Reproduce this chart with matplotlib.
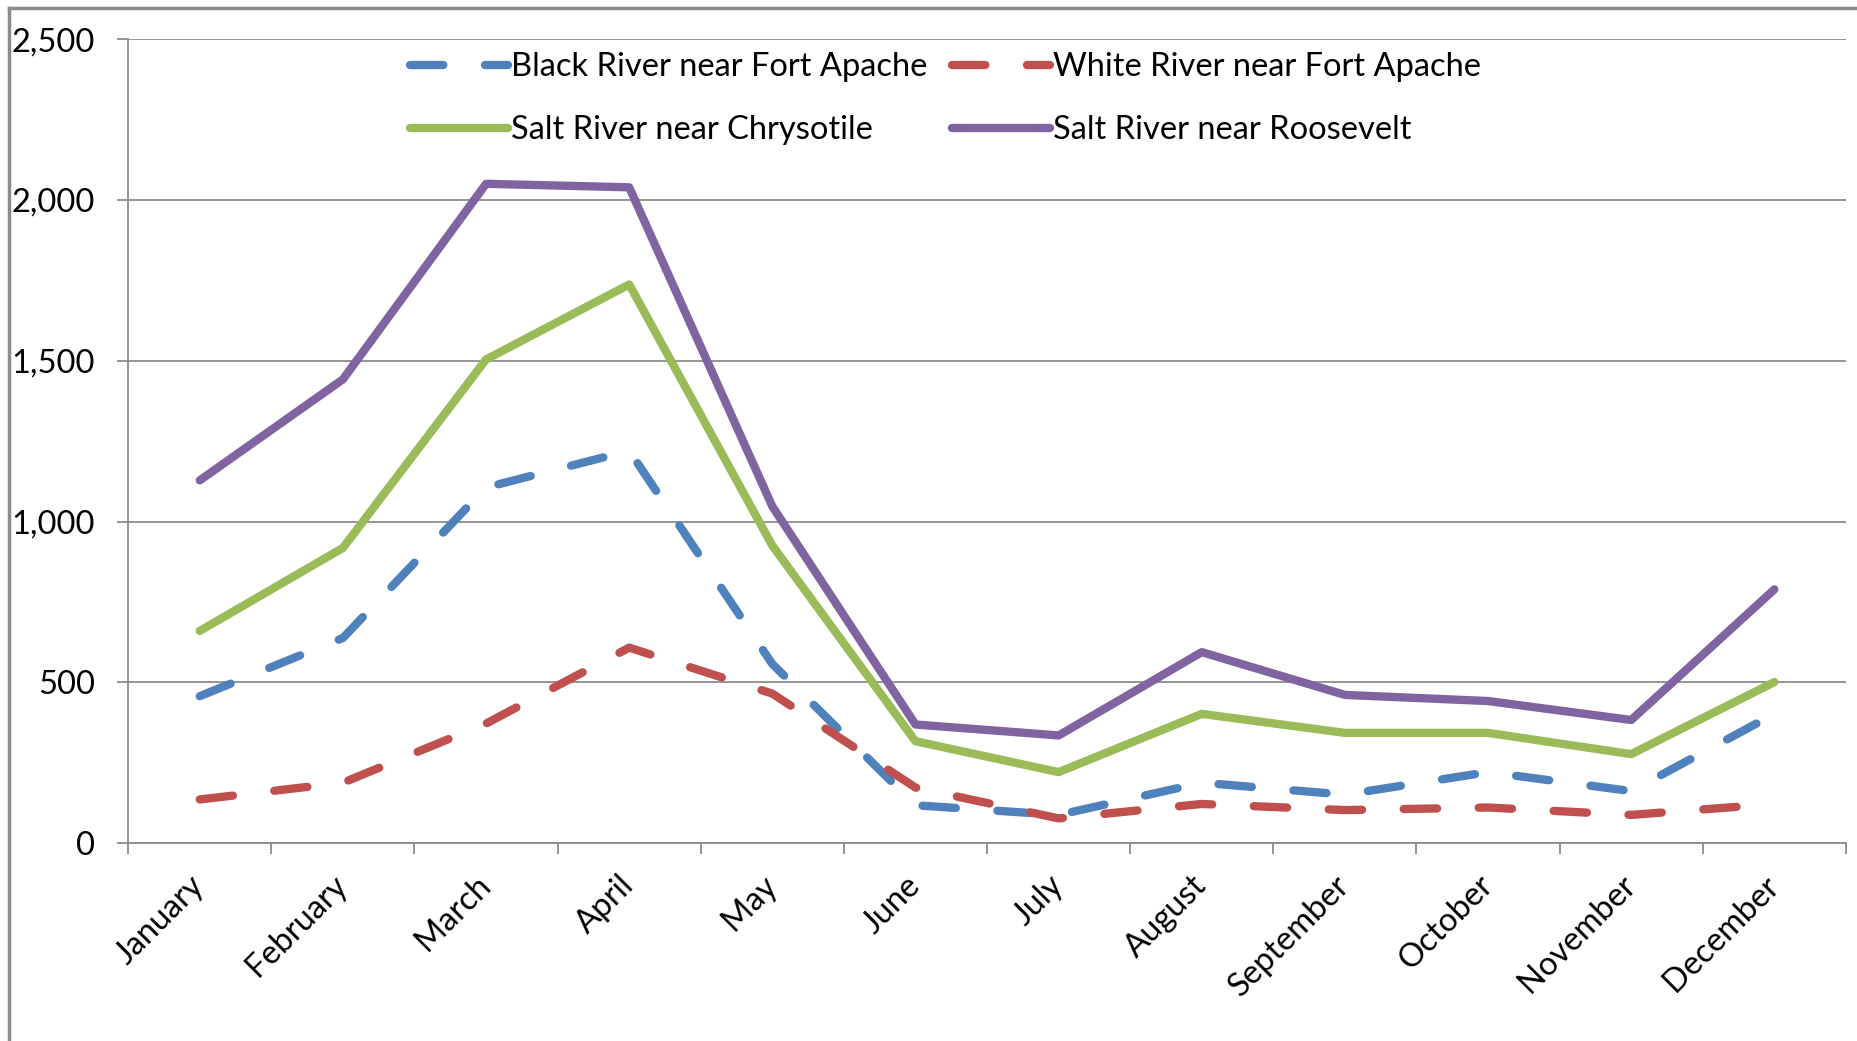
import matplotlib
matplotlib.use('Agg')
import matplotlib.pyplot as plt
import matplotlib.transforms as mtransforms
from matplotlib.lines import Line2D

plt.rcParams['font.family'] = ['Lato', 'DejaVu Sans']

months = ['January', 'February', 'March', 'April', 'May', 'June', 'July',
          'August', 'September', 'October', 'November', 'December']
black_river = [457, 638, 1106, 1220, 557, 118, 88, 188, 151, 221, 162, 402]
white_river = [136, 188, 372, 608, 465, 173, 77, 122, 103, 111, 88, 122]
salt_chrysotile = [660, 918, 1504, 1737, 925, 317, 221, 402, 343, 343, 277, 501]
salt_roosevelt = [1128, 1442, 2050, 2039, 1047, 369, 335, 594, 461, 442, 383, 789]

fig = plt.figure(figsize=(18.58, 10.41), dpi=100)
ax = fig.add_axes([0.069, 0.190, 0.9245, 0.7725])

x = list(range(len(months)))
lw = 6.0
h1, = ax.plot(x, black_river, color='#4F81BD', lw=lw, dashes=(4, 5),
              dash_capstyle='round', solid_joinstyle='round',
              label='Black River near Fort Apache')
h2, = ax.plot(x, white_river, color='#C0504D', lw=lw, dashes=(4, 5),
              dash_capstyle='round', solid_joinstyle='round',
              label='White River near Fort Apache')
h3, = ax.plot(x, salt_chrysotile, color='#9BBB59', lw=lw,
              solid_capstyle='round', solid_joinstyle='round',
              label='Salt River near Chrysotile')
h4, = ax.plot(x, salt_roosevelt, color='#8064A2', lw=lw,
              solid_capstyle='round', solid_joinstyle='round',
              label='Salt River near Roosevelt')

fs = 23.5
ax.set_xlim(-0.5, len(months) - 0.5)
ax.set_ylim(0, 2500)
ax.set_yticks(range(0, 2501, 500))
ax.set_yticklabels([f'{v:,}' for v in range(0, 2501, 500)], fontsize=fs)
ax.grid(axis='y', color='#8c8c8c', lw=1.3)
ax.set_axisbelow(True)

ax.set_xticks(x)
ax.set_xticklabels(months, fontsize=fs, rotation=45, ha='right', va='center',
                   rotation_mode='anchor')
shift = mtransforms.ScaledTranslation(12 / 100, 0, fig.dpi_scale_trans)
for lab in ax.get_xticklabels():
    lab.set_transform(lab.get_transform() + shift)
ax.set_xticks([i - 0.5 for i in range(len(months) + 1)], minor=True)
ax.tick_params(axis='x', which='major', length=0, pad=27)
ax.tick_params(axis='x', which='minor', length=8, width=1.3, color='#8c8c8c')
ax.tick_params(axis='y', length=8, width=1.3, color='#8c8c8c', pad=16)

for side in ['top', 'right']:
    ax.spines[side].set_visible(False)
for side in ['left', 'bottom']:
    ax.spines[side].set_color('#8c8c8c')
    ax.spines[side].set_linewidth(1.3)

leg = ax.legend([h1, h3, h2, h4],
                [h1.get_label(), h3.get_label(), h2.get_label(), h4.get_label()],
                ncol=2, loc='upper center', bbox_to_anchor=(0.476, 1.02),
                frameon=False, fontsize=fs, handlelength=3.0,
                handletextpad=0.1, columnspacing=0.75, labelspacing=1.0)

fig.add_artist(Line2D([0.005, 0.005], [0, 0.992], color='#8c8c8c', lw=2.5,
                      transform=fig.transFigure))
fig.add_artist(Line2D([0.005, 1], [0.992, 0.992], color='#8c8c8c', lw=2.5,
                      transform=fig.transFigure))

fig.savefig('out.png', dpi=100)
